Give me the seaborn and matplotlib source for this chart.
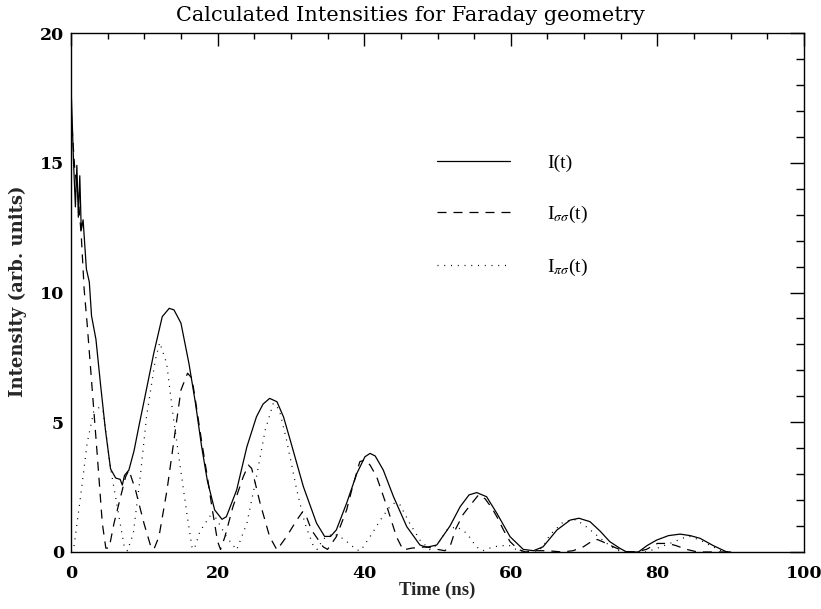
import matplotlib
matplotlib.use("Agg")
import matplotlib.pyplot as plt
from matplotlib.ticker import MultipleLocator
import pandas as pd
import seaborn as sns

# Total intensity I(t)
t_total = [0.0, 0.35, 0.6, 0.8, 1.0, 1.2, 1.4, 1.65, 2.1, 2.5,
           2.8, 3.4, 4.05, 4.7, 5.4, 6.1, 6.7, 7.0, 7.3, 7.9,
           8.6, 9.3, 10.0, 11.3, 12.45, 13.4, 14.05, 15.0, 16.1, 17.0,
           17.8, 18.6, 19.6, 20.6, 21.2, 22.6, 24.0, 25.3, 26.2, 27.1,
           28.1, 29.0, 29.9, 31.7, 33.5, 34.6, 35.4, 36.2, 37.6, 39.0,
           40.1, 40.8, 41.5, 42.6, 44.0, 45.8, 47.6, 48.5, 49.9, 51.7,
           53.1, 54.3, 55.35, 56.7, 58.1, 59.9, 61.7, 63.1, 64.4, 66.3,
           68.1, 69.3, 70.8, 72.2, 73.5, 74.9, 75.8, 77.4, 78.6, 79.9,
           81.5, 83.1, 84.5, 85.8, 87.6, 89.4, 90.0]
I_total = [18.0, 15.0, 13.3, 14.9, 12.9, 14.5, 12.4, 12.8, 10.9, 10.4,
           9.1, 8.2, 6.4, 4.7, 3.2, 2.85, 2.8, 2.58, 2.95, 3.16,
           3.9, 4.9, 5.86, 7.67, 9.07, 9.39, 9.33, 8.82, 7.25, 5.7,
           4.1, 2.75, 1.62, 1.26, 1.36, 2.39, 4.06, 5.21, 5.7, 5.92,
           5.79, 5.2, 4.32, 2.52, 1.11, 0.6, 0.6, 0.85, 1.88, 3.03,
           3.67, 3.80, 3.70, 3.16, 2.13, 0.98, 0.27, 0.18, 0.27, 1.0,
           1.75, 2.2, 2.29, 2.13, 1.49, 0.59, 0.10, 0.05, 0.20, 0.85,
           1.23, 1.30, 1.17, 0.8, 0.4, 0.14, 0.0, 0.0, 0.25, 0.46,
           0.63, 0.69, 0.63, 0.53, 0.25, 0.01, 0.0]

# sigma-sigma component
t_ss = [0.0, 0.5, 1.0, 1.4, 1.8, 2.2, 2.9, 3.6, 4.27, 4.75,
        5.2, 5.87, 6.77, 7.45, 7.9, 8.8, 9.96, 10.9, 11.3, 12.0,
        13.1, 14.05, 15.0, 15.9, 16.5, 17.0, 17.8, 18.6, 19.3, 20.0,
        20.4, 21.0, 22.1, 23.5, 24.2, 24.65, 25.8, 27.1, 28.1, 29.4,
        30.8, 31.6, 32.0, 32.8, 34.4, 35.0, 36.2, 37.6, 38.3, 39.4,
        40.1, 40.8, 41.7, 43.1, 44.4, 45.3, 46.5, 48.5, 50.0, 51.0,
        51.7, 52.5, 53.5, 54.6, 55.6, 56.5, 57.4, 58.1, 59.0, 59.9,
        61.0, 62.0, 63.5, 65.0, 67.0, 68.5, 69.9, 71.3, 71.8, 72.5,
        74.0, 75.5, 77.0, 78.5, 80.0, 81.4, 82.5, 84.0, 85.5, 90.0]
I_ss = [17.0, 14.8, 13.6, 12.2, 10.1, 8.8, 6.24, 3.67, 1.11, 0.15,
        0.15, 1.11, 2.13, 2.9, 3.16, 2.39, 1.1, 0.2, 0.1, 0.59,
        2.39, 4.32, 6.24, 6.89, 6.7, 5.8, 4.3, 2.9, 1.6, 0.4,
        0.1, 0.59, 1.75, 2.9, 3.35, 3.22, 1.88, 0.59, 0.08, 0.59,
        1.23, 1.55, 1.45, 0.85, 0.2, 0.1, 0.59, 1.62, 2.39, 3.48,
        3.55, 3.35, 2.9, 1.75, 0.59, 0.08, 0.15, 0.2, 0.1, 0.05,
        0.2, 0.9, 1.45, 1.85, 2.2, 2.05, 1.7, 1.36, 0.85, 0.4,
        0.1, 0.0, 0.05, 0.05, 0.0, 0.05, 0.2, 0.46, 0.48, 0.4,
        0.2, 0.02, 0.0, 0.1, 0.33, 0.33, 0.25, 0.1, 0.0, 0.0]

# pi-sigma component
t_ps = [0.0, 0.4, 1.3, 2.2, 3.1, 3.9, 4.4, 5.35, 6.4, 7.3,
        7.7, 8.5, 9.4, 10.3, 11.5, 12.1, 13.05, 13.95, 14.9, 15.8,
        16.5, 16.8, 17.6, 19.0, 19.8, 21.2, 22.6, 24.0, 25.3, 26.5,
        27.6, 28.4, 29.4, 30.8, 31.9, 33.1, 33.6, 34.4, 35.8, 37.2,
        39.0, 39.5, 40.8, 42.2, 43.5, 44.2, 44.9, 46.2, 47.6, 49.0,
        50.0, 51.3, 52.6, 54.0, 55.3, 56.2, 57.6, 59.7, 61.0, 63.5,
        64.4, 65.3, 67.2, 68.9, 70.4, 71.7, 73.1, 74.4, 75.5, 78.5,
        79.9, 81.7, 84.0, 84.4, 85.8, 87.6, 89.0, 90.0]
I_ps = [0.0, 0.2, 2.13, 4.19, 5.41, 5.58, 5.4, 3.3, 1.6, 0.15,
        0.05, 0.72, 2.77, 5.21, 7.4, 8.07, 7.27, 5.21, 3.29, 1.49,
        0.2, 0.1, 0.8, 1.4, 1.3, 0.59, 0.08, 1.11, 2.9, 4.7,
        5.73, 5.5, 4.32, 2.39, 1.11, 0.2, 0.1, 0.5, 0.72, 0.5,
        0.08, 0.05, 0.59, 1.23, 1.75, 1.9, 1.81, 1.11, 0.46, 0.08,
        0.3, 0.85, 0.98, 0.72, 0.2, 0.05, 0.2, 0.27, 0.05, 0.0,
        0.2, 0.65, 1.17, 1.25, 0.95, 0.65, 0.33, 0.08, 0.0, 0.0,
        0.14, 0.33, 0.59, 0.6, 0.46, 0.2, 0.0, 0.0]

series_labels = ["I(t)", r"I$_{\sigma\sigma}$(t)", r"I$_{\pi\sigma}$(t)"]

df = pd.concat(
    [pd.DataFrame({"t": t, "v": v, "series": lab})
     for t, v, lab in zip([t_total, t_ss, t_ps],
                          [I_total, I_ss, I_ps],
                          series_labels)],
    ignore_index=True,
)

sns.set_theme(style="white")
plt.rcParams.update({
    "font.family": ["DejaVu Serif"],
    "mathtext.fontset": "stix",
    "axes.edgecolor": "black",
    "axes.linewidth": 1.0,
    "xtick.color": "black",
    "ytick.color": "black",
    "text.color": "black",
})

fig = plt.figure(figsize=(8.21, 6.09), dpi=100)
ax = fig.add_axes([71 / 821, 57 / 609, 733 / 821, 519 / 609])

sns.lineplot(
    data=df, x="t", y="v", style="series", style_order=series_labels,
    dashes={series_labels[0]: "", series_labels[1]: (7.2, 5.6),
            series_labels[2]: (0.8, 4.6)},
    color="black", linewidth=0.9, estimator=None, sort=False, ax=ax,
)

ax.set_xlim(0, 100)
ax.set_ylim(0, 20)
ax.xaxis.set_major_locator(MultipleLocator(20))
ax.xaxis.set_minor_locator(MultipleLocator(5))
ax.yaxis.set_major_locator(MultipleLocator(5))
ax.yaxis.set_minor_locator(MultipleLocator(1))
ax.tick_params(which="both", direction="in", top=True, right=True,
               width=1.0, labelsize=12.5)
ax.tick_params(axis="x", which="major", length=9, pad=9)
ax.tick_params(axis="x", which="minor", length=4.5)
ax.tick_params(axis="y", which="major", length=10, pad=5)
ax.tick_params(axis="y", which="minor", length=5.5)
for lab in ax.get_xticklabels() + ax.get_yticklabels():
    lab.set_fontweight("bold")
for sp in ax.spines.values():
    sp.set_visible(True)
    sp.set_linewidth(1.0)

fig.text(0.5, 1 - 21 / 609, "Calculated Intensities for Faraday geometry",
         ha="center", va="baseline", fontsize=15)
ax.set_xlabel("Time (ns)", fontsize=13.5, fontweight="bold",
              family="Liberation Serif")
ax.set_ylabel("Intensity (arb. units)", fontsize=13, fontweight="bold")
ax.xaxis.set_label_coords(0.5, -0.058)
ax.yaxis.set_label_coords(-0.06, 0.503)

old = ax.get_legend()
handles = old.legend_handles
texts = [t.get_text() for t in old.get_texts()]
old.remove()
ax.legend(handles, texts, loc="upper left", bbox_to_anchor=(0.499, 0.767),
          frameon=False, handlelength=3.76, handletextpad=1.9,
          labelspacing=1.65, borderpad=0, borderaxespad=0,
          prop={"family": "Liberation Serif", "size": 14})

fig.savefig("out.png", dpi=100)
